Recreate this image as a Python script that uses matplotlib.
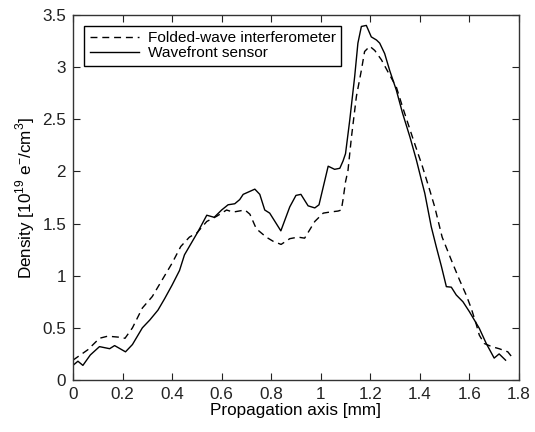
import numpy as np
import matplotlib.pyplot as plt

plt.rcParams['font.family'] = ['Liberation Sans', 'DejaVu Sans']
plt.rcParams['mathtext.fontset'] = 'custom'
plt.rcParams['mathtext.rm'] = 'Liberation Sans'

# wavefront sensor (solid)
x_wf = [0.0, 0.02, 0.04, 0.07, 0.107, 0.148, 0.168, 0.212, 0.24, 0.28, 0.31, 0.343,
        0.37, 0.40, 0.43, 0.45, 0.477, 0.504, 0.54, 0.57, 0.60, 0.626, 0.653, 0.673,
        0.687, 0.734, 0.754, 0.774, 0.794, 0.839, 0.875, 0.90, 0.92, 0.949, 0.976,
        0.993, 1.03, 1.056, 1.077, 1.09, 1.10, 1.117, 1.137, 1.15, 1.164, 1.184,
        1.204, 1.225, 1.238, 1.258, 1.278, 1.305, 1.33, 1.36, 1.386, 1.406, 1.42,
        1.446, 1.466, 1.487, 1.507, 1.527, 1.547, 1.574, 1.60, 1.62, 1.64, 1.668,
        1.70, 1.72, 1.746]
y_wf = [0.14, 0.18, 0.14, 0.24, 0.32, 0.30, 0.33, 0.27, 0.34, 0.50, 0.575, 0.67,
        0.78, 0.91, 1.05, 1.20, 1.31, 1.42, 1.58, 1.56, 1.63, 1.68, 1.69, 1.73,
        1.78, 1.83, 1.78, 1.63, 1.60, 1.43, 1.66, 1.77, 1.78, 1.67, 1.65,
        1.68, 2.05, 2.02, 2.03, 2.10, 2.17, 2.49, 2.91, 3.23, 3.39, 3.40,
        3.29, 3.26, 3.23, 3.13, 2.97, 2.78, 2.56, 2.33, 2.11, 1.92, 1.79,
        1.47, 1.28, 1.09, 0.895, 0.89, 0.815, 0.75, 0.655, 0.575, 0.495, 0.35,
        0.21, 0.25, 0.19]

# folded-wave interferometer (dashed)
x_fw = [0.0, 0.06, 0.107, 0.14, 0.188, 0.21, 0.24, 0.28, 0.32, 0.36, 0.40, 0.435,
        0.47, 0.50, 0.54, 0.58, 0.62, 0.646, 0.694, 0.714, 0.74, 0.78, 0.808, 0.84,
        0.875, 0.908, 0.935, 0.976, 1.01, 1.036, 1.07, 1.083, 1.09, 1.10, 1.11,
        1.124, 1.144, 1.164, 1.177, 1.198, 1.218, 1.245, 1.27, 1.305, 1.33, 1.37,
        1.41, 1.44, 1.46, 1.49, 1.527, 1.56, 1.587, 1.607, 1.627, 1.64, 1.66,
        1.69, 1.72, 1.755, 1.775]
y_fw = [0.19, 0.29, 0.40, 0.42, 0.41, 0.40, 0.50, 0.69, 0.80, 0.96, 1.12, 1.28,
        1.37, 1.41, 1.52, 1.57, 1.63, 1.61, 1.63, 1.59, 1.45, 1.37, 1.33, 1.30,
        1.355, 1.37, 1.36, 1.52, 1.60, 1.61, 1.62, 1.63, 1.73, 1.90, 2.01,
        2.33, 2.72, 2.97, 3.15, 3.20, 3.16, 3.07, 2.96, 2.81, 2.62, 2.33,
        2.05, 1.82, 1.66, 1.37, 1.15, 0.96, 0.815, 0.69, 0.54, 0.43, 0.35,
        0.32, 0.30, 0.27, 0.21]

fig = plt.figure(figsize=(5.35, 4.32), dpi=100)
ax = fig.add_axes([0.1364, 0.1204, 0.8336, 0.8449])

ax.plot(x_fw, y_fw, 'k--', lw=1.0, dashes=(5, 3.5), label='Folded-wave interferometer')
ax.plot(x_wf, y_wf, 'k-', lw=1.0, label='Wavefront sensor')

ax.set_xlim(0, 1.8)
ax.set_ylim(0, 3.5)
ax.set_xticks(np.arange(0, 1.81, 0.2))
ax.set_xticklabels(['0', '0.2', '0.4', '0.6', '0.8', '1', '1.2', '1.4', '1.6', '1.8'])
ax.set_yticks(np.arange(0, 3.51, 0.5))
ax.set_yticklabels(['0', '0.5', '1', '1.5', '2', '2.5', '3', '3.5'])
ax.tick_params(direction='in', top=True, right=True, length=5, width=0.8,
               labelsize=12.3, colors='#222222', pad=5)
for s in ax.spines.values():
    s.set_color('#333333')
    s.set_linewidth(1.0)

ax.set_xlabel('Propagation axis [mm]', fontsize=12.3, labelpad=1)
ax.set_ylabel('Density [10$^{19}$ e$^{-}$/cm$^{3}$]', fontsize=12.3, labelpad=4)

leg = ax.legend(loc='upper left', fontsize=11.1, fancybox=False, framealpha=1,
                edgecolor='black', handlelength=3.2, borderpad=0.35,
                labelspacing=0.05, handletextpad=0.6, borderaxespad=0,
                bbox_to_anchor=(0.025, 0.97))
leg.get_frame().set_linewidth(1.0)

plt.savefig('out.png', dpi=100)
